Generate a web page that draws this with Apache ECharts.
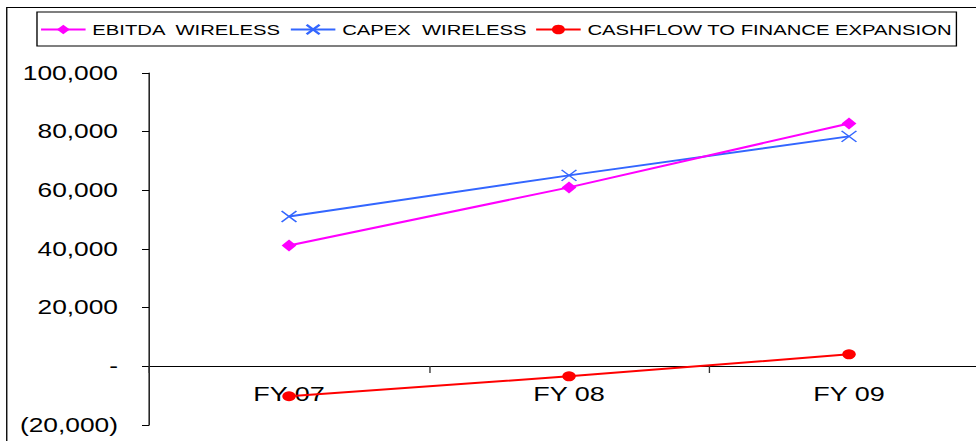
<!DOCTYPE html>
<html>
<head>
<meta charset="utf-8">
<script src="https://cdn.jsdelivr.net/npm/echarts@6/dist/echarts.min.js"></script>
<style>
html,body{margin:0;padding:0;background:#fff;overflow:hidden;}
#wrap{position:absolute;left:0;top:0;width:976px;height:441px;overflow:hidden;}
#chart{position:absolute;left:0;top:0;width:723px;height:441px;transform-origin:0 0;transform:scaleX(1.35);}
</style>
</head>
<body>
<div id="wrap"><div id="chart"></div></div>
<script>
const categories = ['FY 07', 'FY 08', 'FY 09'];
const ebitdaWireless = [41200, 61000, 82800];
const capexWireless = [51100, 65100, 78400];
const cashflowToFinance = [-10200, -3400, 4100];
const seriesNames = ['EBITDA  WIRELESS', 'CAPEX  WIRELESS', 'CASHFLOW TO FINANCE EXPANSION'];
const yMin = -20000, yMax = 100000, yStep = 20000;

const FONT = '"Liberation Sans", Arial, sans-serif';
function fmt(v) {
  if (v === 0) return '-';
  const s = Math.abs(v).toLocaleString('en-US');
  return v < 0 ? '(' + s + ')' : s;
}
const xMark = 'path://M0,0L10,10M10,0L0,10';

const chart = echarts.init(document.getElementById('chart'), null, {renderer: 'svg'});
chart.setOption({
  animation: false,
  backgroundColor: '#fff',
  graphic: [{
    type: 'rect', left: 2.5, top: 5, silent: true,
    shape: {width: 900, height: 600},
    style: {fill: 'none', stroke: '#000', lineWidth: 1}
  }],
  legend: {
    left: 27.4, top: 12, width: 700,
    padding: [10, 3, 9, 2],
    borderColor: '#000', borderWidth: 1,
    itemWidth: 33, itemHeight: 12, itemGap: 6,
    textStyle: {fontFamily: FONT, fontSize: 15, color: '#000'},
    data: seriesNames
  },
  grid: {left: 110.4, top: 73, width: 622.2, height: 352, containLabel: false, outerBoundsMode: 'none'},
  xAxis: {
    type: 'category', data: categories, boundaryGap: true,
    position: 'bottom', offset: -59,
    axisLine: {onZero: false, lineStyle: {color: '#000', width: 1}},
    axisTick: {show: true, length: 7, inside: false, lineStyle: {color: '#333'}},
    axisLabel: {fontFamily: FONT, fontSize: 20, color: '#000', margin: 18},
    splitLine: {show: false}
  },
  yAxis: {
    type: 'value', min: yMin, max: yMax, interval: yStep,
    axisLine: {show: true, lineStyle: {color: '#000', width: 1}},
    axisTick: {show: true, length: 5.2, lineStyle: {color: '#000'}},
    axisLabel: {fontFamily: FONT, fontSize: 19.5, color: '#000', margin: 23, formatter: fmt},
    splitLine: {show: false}
  },
  series: [
    {
      name: seriesNames[0], type: 'line', data: ebitdaWireless,
      symbol: 'diamond', symbolSize: [11, 12], showSymbol: true,
      lineStyle: {color: '#FF00FF', width: 2},
      itemStyle: {color: '#FF00FF'}, z: 3
    },
    {
      name: seriesNames[1], type: 'line', data: capexWireless,
      symbol: xMark, symbolSize: [11, 11], showSymbol: true,
      lineStyle: {color: '#3366FF', width: 2},
      itemStyle: {color: '#3366FF', borderColor: '#3366FF', borderWidth: 1.3}, z: 2
    },
    {
      name: seriesNames[2], type: 'line', data: cashflowToFinance,
      symbol: 'circle', symbolSize: 10, showSymbol: true,
      lineStyle: {color: '#FF0000', width: 2},
      itemStyle: {color: '#FF0000'}, z: 4
    }
  ]
});
</script>
</body>
</html>
